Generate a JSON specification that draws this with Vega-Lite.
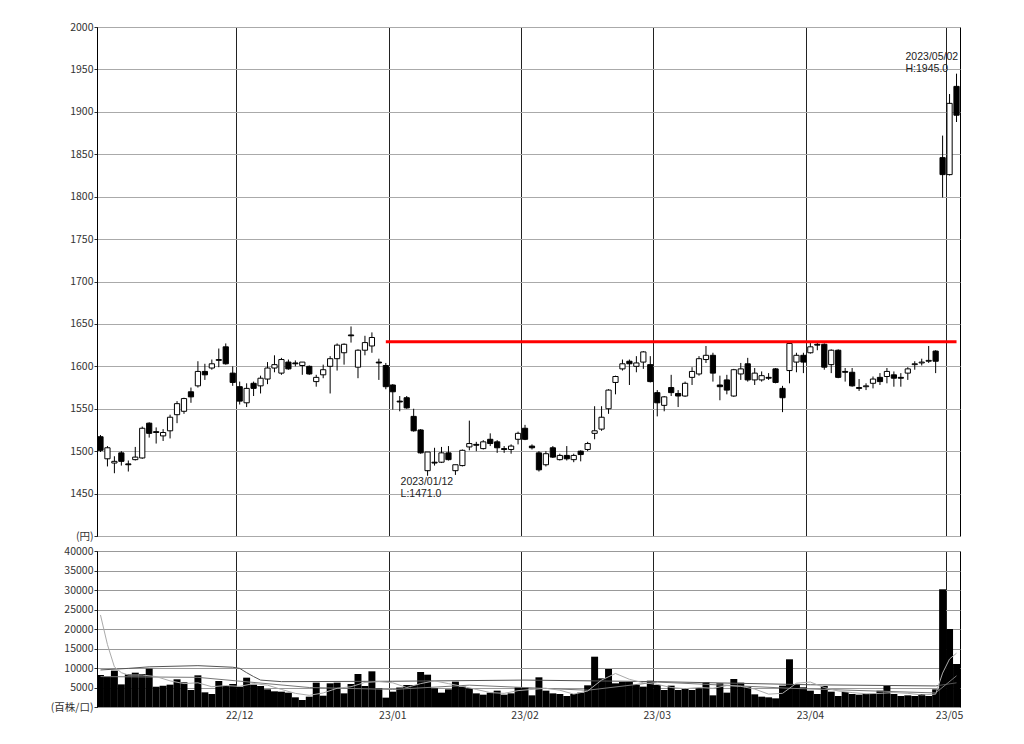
{
  "$schema": "https://vega.github.io/schema/vega-lite/v6.json",
  "background": "white",
  "padding": {"left": 49, "top": 21, "right": 10, "bottom": 5},
  "spacing": 3,
  "config": {
    "view": {"stroke": "#000", "strokeWidth": 1},
    "axis": {"labelFont": "Noto Sans CJK JP", "labelFontSize": 10.5, "labelColor": "#333", "tickColor": "#333", "domainColor": "#000", "titleFont": "Noto Sans CJK JP", "labelOverlap": false}
  },
  "datasets": {
    "k": [
      {"d":"2022-11-01","o":1517,"h":1519,"l":1499,"c":1501,"v":8200},
      {"d":"2022-11-02","o":1491,"h":1506,"l":1482,"c":1504,"v":7780},
      {"d":"2022-11-04","o":1486,"h":1494,"l":1474,"c":1488,"v":9320},
      {"d":"2022-11-07","o":1498,"h":1500,"l":1483,"c":1488,"v":5800},
      {"d":"2022-11-08","o":1485,"h":1489,"l":1476,"c":1484,"v":8380},
      {"d":"2022-11-09","o":1490,"h":1505,"l":1489,"c":1493,"v":8800},
      {"d":"2022-11-10","o":1492,"h":1529,"l":1491,"c":1527,"v":8460},
      {"d":"2022-11-11","o":1533,"h":1534,"l":1516,"c":1521,"v":9830},
      {"d":"2022-11-14","o":1523,"h":1528,"l":1509,"c":1522,"v":5200},
      {"d":"2022-11-15","o":1518,"h":1526,"l":1512,"c":1522,"v":5470},
      {"d":"2022-11-16","o":1524,"h":1543,"l":1515,"c":1540,"v":5730},
      {"d":"2022-11-17","o":1543,"h":1559,"l":1533,"c":1556,"v":7100},
      {"d":"2022-11-18","o":1547,"h":1563,"l":1544,"c":1562,"v":6330},
      {"d":"2022-11-21","o":1570,"h":1575,"l":1557,"c":1564,"v":4360},
      {"d":"2022-11-22","o":1577,"h":1606,"l":1575,"c":1594,"v":8120},
      {"d":"2022-11-24","o":1594,"h":1603,"l":1584,"c":1590,"v":3760},
      {"d":"2022-11-25","o":1598,"h":1608,"l":1596,"c":1603,"v":3330},
      {"d":"2022-11-28","o":1607,"h":1621,"l":1599,"c":1608,"v":6670},
      {"d":"2022-11-29","o":1623,"h":1627,"l":1602,"c":1603,"v":5390},
      {"d":"2022-11-30","o":1592,"h":1600,"l":1577,"c":1581,"v":5900},
      {"d":"2022-12-01","o":1576,"h":1582,"l":1555,"c":1559,"v":5200},
      {"d":"2022-12-02","o":1557,"h":1580,"l":1552,"c":1574,"v":7520},
      {"d":"2022-12-05","o":1580,"h":1582,"l":1565,"c":1574,"v":5730},
      {"d":"2022-12-06","o":1577,"h":1589,"l":1568,"c":1586,"v":5390},
      {"d":"2022-12-07","o":1585,"h":1605,"l":1579,"c":1598,"v":4530},
      {"d":"2022-12-08","o":1598,"h":1613,"l":1593,"c":1602,"v":4020},
      {"d":"2022-12-09","o":1592,"h":1610,"l":1590,"c":1608,"v":3930},
      {"d":"2022-12-12","o":1605,"h":1608,"l":1596,"c":1597,"v":3680},
      {"d":"2022-12-13","o":1604,"h":1607,"l":1600,"c":1603,"v":2480},
      {"d":"2022-12-14","o":1601,"h":1605,"l":1590,"c":1605,"v":1800},
      {"d":"2022-12-15","o":1600,"h":1601,"l":1590,"c":1591,"v":2650},
      {"d":"2022-12-16","o":1582,"h":1590,"l":1576,"c":1587,"v":6240},
      {"d":"2022-12-19","o":1590,"h":1602,"l":1586,"c":1596,"v":2900},
      {"d":"2022-12-20","o":1600,"h":1612,"l":1568,"c":1609,"v":6070},
      {"d":"2022-12-21","o":1609,"h":1627,"l":1595,"c":1625,"v":6240},
      {"d":"2022-12-22","o":1616,"h":1627,"l":1602,"c":1626,"v":3500},
      {"d":"2022-12-23","o":1637,"h":1647,"l":1628,"c":1636,"v":5900},
      {"d":"2022-12-26","o":1599,"h":1620,"l":1586,"c":1619,"v":8460},
      {"d":"2022-12-27","o":1619,"h":1636,"l":1613,"c":1628,"v":5390},
      {"d":"2022-12-28","o":1624,"h":1640,"l":1616,"c":1634,"v":9150},
      {"d":"2022-12-29","o":1605,"h":1609,"l":1584,"c":1604,"v":4790},
      {"d":"2022-12-30","o":1601,"h":1604,"l":1573,"c":1576,"v":2400},
      {"d":"2023-01-04","o":1578,"h":1579,"l":1549,"c":1570,"v":3930},
      {"d":"2023-01-05","o":1559,"h":1565,"l":1547,"c":1558,"v":5000},
      {"d":"2023-01-06","o":1563,"h":1565,"l":1550,"c":1551,"v":5640},
      {"d":"2023-01-10","o":1541,"h":1550,"l":1523,"c":1524,"v":5640},
      {"d":"2023-01-11","o":1525,"h":1526,"l":1497,"c":1498,"v":8980},
      {"d":"2023-01-12","o":1477,"h":1499,"l":1471,"c":1499,"v":8290},
      {"d":"2023-01-13","o":1487,"h":1504,"l":1483,"c":1486,"v":4790},
      {"d":"2023-01-16","o":1487,"h":1505,"l":1486,"c":1498,"v":3680},
      {"d":"2023-01-17","o":1498,"h":1506,"l":1489,"c":1490,"v":4530},
      {"d":"2023-01-18","o":1477,"h":1484,"l":1472,"c":1484,"v":6500},
      {"d":"2023-01-19","o":1483,"h":1502,"l":1482,"c":1501,"v":5220},
      {"d":"2023-01-20","o":1505,"h":1536,"l":1501,"c":1509,"v":4790},
      {"d":"2023-01-23","o":1508,"h":1511,"l":1500,"c":1507,"v":3500},
      {"d":"2023-01-24","o":1503,"h":1513,"l":1502,"c":1511,"v":3160},
      {"d":"2023-01-25","o":1514,"h":1521,"l":1506,"c":1509,"v":3680},
      {"d":"2023-01-26","o":1511,"h":1513,"l":1498,"c":1504,"v":4190},
      {"d":"2023-01-27","o":1503,"h":1506,"l":1498,"c":1502,"v":3160},
      {"d":"2023-01-30","o":1502,"h":1508,"l":1497,"c":1506,"v":3500},
      {"d":"2023-01-31","o":1514,"h":1523,"l":1508,"c":1521,"v":5040},
      {"d":"2023-02-01","o":1527,"h":1531,"l":1513,"c":1514,"v":5040},
      {"d":"2023-02-02","o":1506,"h":1508,"l":1502,"c":1504,"v":2990},
      {"d":"2023-02-03","o":1498,"h":1500,"l":1476,"c":1478,"v":7610},
      {"d":"2023-02-06","o":1484,"h":1500,"l":1482,"c":1497,"v":4190},
      {"d":"2023-02-07","o":1504,"h":1506,"l":1492,"c":1493,"v":3500},
      {"d":"2023-02-08","o":1490,"h":1497,"l":1489,"c":1495,"v":3330},
      {"d":"2023-02-09","o":1495,"h":1506,"l":1489,"c":1491,"v":2820},
      {"d":"2023-02-10","o":1490,"h":1497,"l":1487,"c":1495,"v":3330},
      {"d":"2023-02-13","o":1500,"h":1501,"l":1488,"c":1496,"v":3680},
      {"d":"2023-02-14","o":1502,"h":1511,"l":1500,"c":1509,"v":5560},
      {"d":"2023-02-15","o":1521,"h":1553,"l":1514,"c":1524,"v":12900},
      {"d":"2023-02-16","o":1526,"h":1553,"l":1524,"c":1540,"v":7350},
      {"d":"2023-02-17","o":1550,"h":1573,"l":1544,"c":1572,"v":9750},
      {"d":"2023-02-20","o":1581,"h":1589,"l":1567,"c":1588,"v":6070},
      {"d":"2023-02-21","o":1597,"h":1608,"l":1595,"c":1603,"v":6410},
      {"d":"2023-02-22","o":1606,"h":1608,"l":1578,"c":1603,"v":6410},
      {"d":"2023-02-24","o":1600,"h":1612,"l":1593,"c":1604,"v":5640},
      {"d":"2023-02-27","o":1605,"h":1618,"l":1597,"c":1617,"v":5220},
      {"d":"2023-02-28","o":1602,"h":1612,"l":1581,"c":1582,"v":6750},
      {"d":"2023-03-01","o":1569,"h":1572,"l":1541,"c":1557,"v":5640},
      {"d":"2023-03-02","o":1554,"h":1565,"l":1547,"c":1564,"v":4360},
      {"d":"2023-03-03","o":1575,"h":1590,"l":1565,"c":1569,"v":5470},
      {"d":"2023-03-06","o":1568,"h":1572,"l":1552,"c":1565,"v":4360},
      {"d":"2023-03-07","o":1565,"h":1582,"l":1564,"c":1580,"v":4790},
      {"d":"2023-03-08","o":1587,"h":1599,"l":1578,"c":1594,"v":4360},
      {"d":"2023-03-09","o":1591,"h":1612,"l":1589,"c":1609,"v":4800},
      {"d":"2023-03-10","o":1608,"h":1624,"l":1604,"c":1613,"v":6410},
      {"d":"2023-03-13","o":1613,"h":1616,"l":1582,"c":1592,"v":2990},
      {"d":"2023-03-14","o":1578,"h":1589,"l":1560,"c":1576,"v":6070},
      {"d":"2023-03-15","o":1584,"h":1590,"l":1567,"c":1572,"v":3680},
      {"d":"2023-03-16","o":1565,"h":1597,"l":1564,"c":1596,"v":7180},
      {"d":"2023-03-17","o":1591,"h":1604,"l":1584,"c":1597,"v":6240},
      {"d":"2023-03-20","o":1603,"h":1610,"l":1582,"c":1584,"v":5220},
      {"d":"2023-03-22","o":1584,"h":1598,"l":1578,"c":1592,"v":3250},
      {"d":"2023-03-23","o":1584,"h":1594,"l":1582,"c":1589,"v":2650},
      {"d":"2023-03-24","o":1587,"h":1592,"l":1584,"c":1586,"v":2480},
      {"d":"2023-03-27","o":1597,"h":1598,"l":1580,"c":1581,"v":2220},
      {"d":"2023-03-28","o":1574,"h":1577,"l":1546,"c":1563,"v":5470},
      {"d":"2023-03-29","o":1595,"h":1628,"l":1580,"c":1627,"v":12230},
      {"d":"2023-03-30","o":1605,"h":1616,"l":1593,"c":1613,"v":5900},
      {"d":"2023-03-31","o":1613,"h":1616,"l":1592,"c":1605,"v":5040},
      {"d":"2023-04-03","o":1616,"h":1628,"l":1615,"c":1623,"v":4190},
      {"d":"2023-04-04","o":1626,"h":1629,"l":1619,"c":1625,"v":3330},
      {"d":"2023-04-05","o":1626,"h":1627,"l":1596,"c":1599,"v":5390},
      {"d":"2023-04-06","o":1602,"h":1620,"l":1592,"c":1619,"v":3930},
      {"d":"2023-04-07","o":1619,"h":1620,"l":1586,"c":1587,"v":2820},
      {"d":"2023-04-10","o":1594,"h":1598,"l":1582,"c":1593,"v":3850},
      {"d":"2023-04-11","o":1593,"h":1598,"l":1576,"c":1577,"v":3330},
      {"d":"2023-04-12","o":1575,"h":1585,"l":1571,"c":1574,"v":3160},
      {"d":"2023-04-13","o":1576,"h":1580,"l":1572,"c":1577,"v":3330},
      {"d":"2023-04-14","o":1580,"h":1588,"l":1574,"c":1585,"v":3330},
      {"d":"2023-04-17","o":1587,"h":1592,"l":1578,"c":1582,"v":4190},
      {"d":"2023-04-18","o":1588,"h":1598,"l":1580,"c":1594,"v":5390},
      {"d":"2023-04-19","o":1590,"h":1594,"l":1576,"c":1586,"v":3330},
      {"d":"2023-04-20","o":1587,"h":1592,"l":1576,"c":1586,"v":2820},
      {"d":"2023-04-21","o":1592,"h":1599,"l":1584,"c":1597,"v":2990},
      {"d":"2023-04-24","o":1602,"h":1606,"l":1596,"c":1603,"v":2820},
      {"d":"2023-04-25","o":1604,"h":1609,"l":1601,"c":1605,"v":3330},
      {"d":"2023-04-26","o":1606,"h":1624,"l":1604,"c":1607,"v":2820},
      {"d":"2023-04-27","o":1618,"h":1619,"l":1592,"c":1606,"v":4530},
      {"d":"2023-04-28","o":1846,"h":1872,"l":1799,"c":1826,"v":30180},
      {"d":"2023-05-01","o":1826,"h":1921,"l":1825,"c":1910,"v":20000},
      {"d":"2023-05-02","o":1930,"h":1945,"l":1888,"c":1896,"v":11030}
    ],
    "ma": [
      {"d":"2022-11-01","s":"a","v":9500},{"d":"2022-11-08","s":"a","v":9900},{"d":"2022-11-11","s":"a","v":10300},{"d":"2022-11-22","s":"a","v":10600},{"d":"2022-11-30","s":"a","v":10200},{"d":"2022-12-01","s":"a","v":9900},{"d":"2022-12-02","s":"a","v":8800},{"d":"2022-12-05","s":"a","v":7800},{"d":"2022-12-06","s":"a","v":6900},{"d":"2022-12-09","s":"a","v":6500},{"d":"2023-01-04","s":"a","v":6600},{"d":"2023-02-01","s":"a","v":6900},{"d":"2023-03-01","s":"a","v":6500},{"d":"2023-04-03","s":"a","v":5700},{"d":"2023-04-27","s":"a","v":5400},{"d":"2023-05-02","s":"a","v":6200},
      {"d":"2022-11-01","s":"b","v":7800},{"d":"2022-11-22","s":"b","v":7600},{"d":"2022-12-15","s":"b","v":5000},{"d":"2023-01-04","s":"b","v":4500},{"d":"2023-01-20","s":"b","v":5600},{"d":"2023-02-14","s":"b","v":4300},{"d":"2023-03-01","s":"b","v":6400},{"d":"2023-03-29","s":"b","v":4800},{"d":"2023-04-27","s":"b","v":3600},{"d":"2023-05-02","s":"b","v":8000},
      {"d":"2022-11-01","s":"c","v":23600},{"d":"2022-11-02","s":"c","v":16000},{"d":"2022-11-04","s":"c","v":10300},{"d":"2022-11-07","s":"c","v":8800},{"d":"2022-11-08","s":"c","v":8200},{"d":"2022-11-10","s":"c","v":8200},{"d":"2022-11-14","s":"c","v":7800},{"d":"2022-11-16","s":"c","v":6700},{"d":"2022-11-18","s":"c","v":6000},{"d":"2022-11-22","s":"c","v":6200},{"d":"2022-11-25","s":"c","v":5200},{"d":"2022-11-29","s":"c","v":5500},{"d":"2022-12-01","s":"c","v":5300},{"d":"2022-12-05","s":"c","v":6000},{"d":"2022-12-07","s":"c","v":5600},{"d":"2022-12-09","s":"c","v":4500},{"d":"2022-12-13","s":"c","v":3500},{"d":"2022-12-15","s":"c","v":3000},{"d":"2022-12-19","s":"c","v":3600},{"d":"2022-12-21","s":"c","v":4800},{"d":"2022-12-23","s":"c","v":5200},{"d":"2022-12-27","s":"c","v":6300},{"d":"2022-12-29","s":"c","v":6500},{"d":"2023-01-04","s":"c","v":6200},{"d":"2023-01-06","s":"c","v":5000},{"d":"2023-01-11","s":"c","v":6000},{"d":"2023-01-13","s":"c","v":6700},{"d":"2023-01-17","s":"c","v":6000},{"d":"2023-01-19","s":"c","v":5300},{"d":"2023-01-23","s":"c","v":4500},{"d":"2023-01-25","s":"c","v":3700},{"d":"2023-01-27","s":"c","v":3500},{"d":"2023-01-31","s":"c","v":4200},{"d":"2023-02-02","s":"c","v":4500},{"d":"2023-02-06","s":"c","v":4800},{"d":"2023-02-08","s":"c","v":4300},{"d":"2023-02-10","s":"c","v":3300},{"d":"2023-02-14","s":"c","v":4100},{"d":"2023-02-16","s":"c","v":6900},{"d":"2023-02-20","s":"c","v":8600},{"d":"2023-02-22","s":"c","v":7100},{"d":"2023-02-27","s":"c","v":6200},{"d":"2023-03-01","s":"c","v":5800},{"d":"2023-03-03","s":"c","v":5000},{"d":"2023-03-07","s":"c","v":4700},{"d":"2023-03-09","s":"c","v":5000},{"d":"2023-03-13","s":"c","v":4800},{"d":"2023-03-15","s":"c","v":5500},{"d":"2023-03-17","s":"c","v":5300},{"d":"2023-03-22","s":"c","v":4600},{"d":"2023-03-24","s":"c","v":3300},{"d":"2023-03-28","s":"c","v":3500},{"d":"2023-03-30","s":"c","v":6100},{"d":"2023-04-03","s":"c","v":6400},{"d":"2023-04-05","s":"c","v":5000},{"d":"2023-04-07","s":"c","v":4100},{"d":"2023-04-11","s":"c","v":3700},{"d":"2023-04-13","s":"c","v":3400},{"d":"2023-04-17","s":"c","v":3500},{"d":"2023-04-19","s":"c","v":3700},{"d":"2023-04-21","s":"c","v":3500},{"d":"2023-04-25","s":"c","v":3100},{"d":"2023-04-27","s":"c","v":3300},{"d":"2023-04-28","s":"c","v":8700},{"d":"2023-05-01","s":"c","v":12300},{"d":"2023-05-02","s":"c","v":13800}
    ],
    "redline": [{"d1":"2022-12-30","d2":"2023-05-02","p":1629}],
    "notes": [
      {"d":"2023-01-12","p":1471,"t1":"2023/01/12","t2":"L:1471.0"}
    ],
    "notesH": [
      {"d":"2023-05-02","p":1945,"t1":"2023/05/02","t2":"H:1945.0"}
    ]
  },
  "vconcat": [
    {
      "width": 863,
      "height": 509,
      "layer": [
        {
          "data": {"name": "k"},
          "mark": {"type": "rule", "color": "#000", "strokeWidth": 1},
          "encoding": {
            "x": {"field": "d", "type": "ordinal", "scale": {"paddingInner": 0, "paddingOuter": 0}, "title": null,
                  "axis": {"values": ["2022-12-01","2023-01-04","2023-02-01","2023-03-01","2023-04-03","2023-05-01"], "bandPosition": 0, "labels": false, "ticks": false, "domain": false, "grid": true, "gridColor": "#222", "gridOpacity": 1, "gridWidth": 1, "minExtent": 0, "maxExtent": 0, "offset": 0}},
            "y": {"field": "l", "type": "quantitative", "scale": {"domain": [1400, 2000], "nice": false, "zero": false}, "title": null,
                  "axis": {"values": [1400,1450,1500,1550,1600,1650,1700,1750,1800,1850,1900,1950,2000], "labelExpr": "datum.value == 1400 ? '(円)' : format(datum.value, 'd')", "grid": true, "gridColor": "#aaa", "gridOpacity": 1, "tickSize": 3, "labelPadding": 1, "domain": true, "labelOverlap": false}},
            "y2": {"field": "h"}
          }
        },
        {
          "data": {"name": "k"},
          "mark": {"type": "bar", "width": {"band": 0.75}, "stroke": "#000", "strokeWidth": 1},
          "encoding": {
            "x": {"field": "d", "type": "ordinal"},
            "y": {"field": "o", "type": "quantitative"},
            "y2": {"field": "c"},
            "fill": {"condition": {"test": "datum.c < datum.o", "value": "#000"}, "value": "#fff"}
          }
        },
        {
          "data": {"name": "redline"},
          "mark": {"type": "rule", "color": "#ff0000", "strokeWidth": 3},
          "encoding": {
            "x": {"field": "d1", "type": "ordinal"},
            "x2": {"field": "d2"},
            "y": {"field": "p", "type": "quantitative"}
          }
        },
        {
          "data": {"name": "notes"},
          "mark": {"type": "text", "align": "left", "baseline": "top", "dx": -27, "dy": 1, "font": "Liberation Sans", "fontSize": 10.5, "color": "#222"},
          "encoding": {
            "x": {"field": "d", "type": "ordinal"},
            "y": {"field": "p", "type": "quantitative"},
            "text": {"field": "t1"}
          }
        },
        {
          "data": {"name": "notes"},
          "mark": {"type": "text", "align": "left", "baseline": "top", "dx": -27, "dy": 13, "font": "Liberation Sans", "fontSize": 10.5, "color": "#222"},
          "encoding": {
            "x": {"field": "d", "type": "ordinal"},
            "y": {"field": "p", "type": "quantitative"},
            "text": {"field": "t2"}
          }
        },
        {
          "data": {"name": "notesH"},
          "mark": {"type": "text", "align": "left", "baseline": "bottom", "dx": -51, "dy": -12, "font": "Liberation Sans", "fontSize": 10.5, "color": "#222"},
          "encoding": {
            "x": {"field": "d", "type": "ordinal"},
            "y": {"field": "p", "type": "quantitative"},
            "text": {"field": "t1"}
          }
        },
        {
          "data": {"name": "notesH"},
          "mark": {"type": "text", "align": "left", "baseline": "bottom", "dx": -51, "dy": 0, "font": "Liberation Sans", "fontSize": 10.5, "color": "#222"},
          "encoding": {
            "x": {"field": "d", "type": "ordinal"},
            "y": {"field": "p", "type": "quantitative"},
            "text": {"field": "t2"}
          }
        }
      ]
    },
    {
      "width": 863,
      "height": 156,
      "layer": [
        {
          "data": {"name": "k"},
          "mark": {"type": "bar", "width": {"band": 1}, "color": "#000"},
          "encoding": {
            "x": {"field": "d", "type": "ordinal", "scale": {"paddingInner": 0, "paddingOuter": 0}, "title": null,
                  "axis": {"values": ["2022-12-01","2023-01-04","2023-02-01","2023-03-01","2023-04-03","2023-05-01"], "bandPosition": 0, "labelExpr": "substring(datum.value,2,4) + '/' + substring(datum.value,5,7)", "labelAngle": 0, "labelAlign": "center", "ticks": false, "domain": false, "grid": true, "gridColor": "#222", "gridOpacity": 1, "labelPadding": 3}},
            "y": {"field": "v", "type": "quantitative", "scale": {"domain": [0, 40000], "nice": false}, "title": null,
                  "axis": {"values": [0,5000,10000,15000,20000,25000,30000,35000,40000], "labelExpr": "datum.value == 0 ? '(百株/口)' : format(datum.value, 'd')", "grid": true, "gridColor": "#999", "gridOpacity": 1, "tickSize": 3, "labelPadding": 1, "labelOverlap": false}}
          }
        },
        {
          "data": {"name": "ma"},
          "mark": {"type": "line", "strokeWidth": 1},
          "encoding": {
            "x": {"field": "d", "type": "ordinal", "title": null,
                  "axis": {"values": ["2022-12-01","2023-01-04","2023-02-01","2023-03-01","2023-04-03","2023-05-01"], "bandPosition": 0, "labelExpr": "substring(datum.value,2,4) + '/' + substring(datum.value,5,7)", "labelAngle": 0, "labelAlign": "center", "ticks": false, "domain": false, "grid": true, "gridColor": "#222", "gridOpacity": 1, "labelPadding": 3}},
            "y": {"field": "v", "type": "quantitative", "title": null,
                  "axis": {"values": [0,5000,10000,15000,20000,25000,30000,35000,40000], "labelExpr": "datum.value == 0 ? '(百株/口)' : format(datum.value, 'd')", "grid": true, "gridColor": "#999", "gridOpacity": 1, "tickSize": 3, "labelPadding": 1, "labelOverlap": false}},
            "color": {"field": "s", "type": "nominal", "legend": null, "scale": {"domain": ["a","b","c"], "range": ["#555555", "#777777", "#aaaaaa"]}}
          }
        }
      ]
    }
  ]
}
